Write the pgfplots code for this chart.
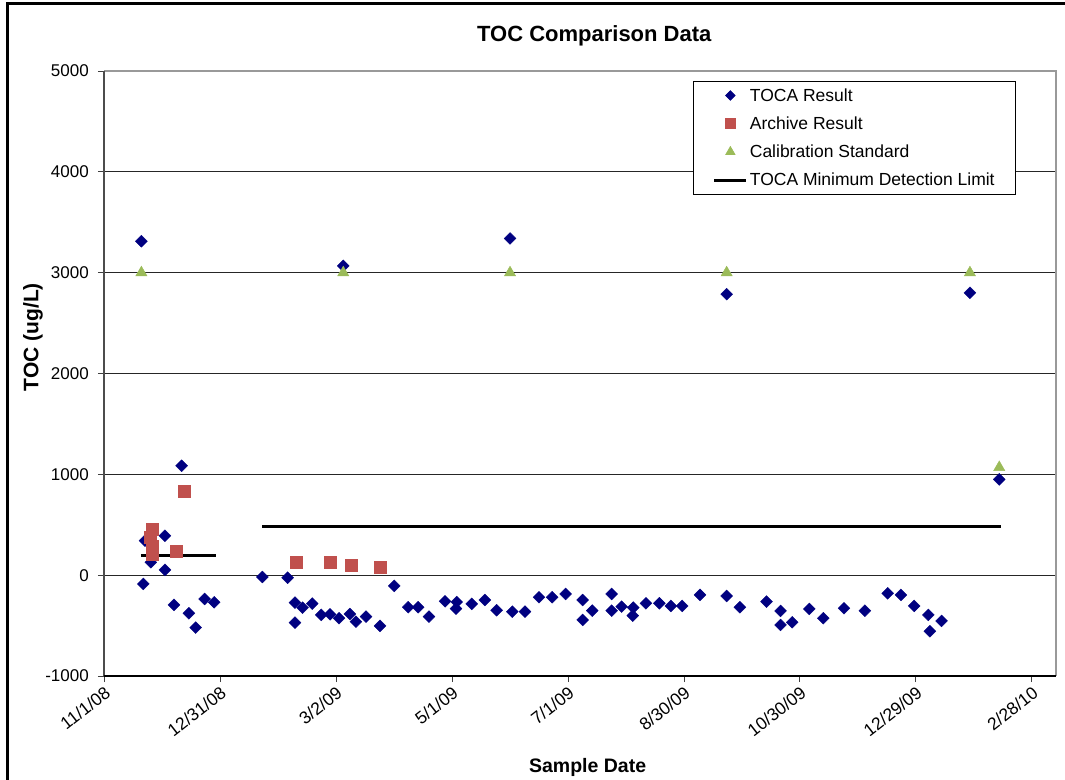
\documentclass[border=0pt]{standalone}
\usepackage{pgfplots}
\pgfplotsset{compat=1.18}
\usepackage{fontspec}
\setmainfont{Liberation Sans}
\definecolor{tocab}{HTML}{000080}
\definecolor{archr}{HTML}{C0504D}
\definecolor{calg}{HTML}{9BBB59}
\begin{document}
\begin{tikzpicture}
\begin{axis}[
  name=ax,
  scale only axis,
  width=952pt, height=605pt,
  xmin=0, xmax=496.6,
  ymin=-1000, ymax=5000,
  xtick={0,60.5,121,181.5,242,302.5,363,423.5,484},
  xticklabels={11/1/08,12/31/08,3/2/09,5/1/09,7/1/09,8/30/09,10/30/09,12/29/09,2/28/10},
  ytick={-1000,0,1000,2000,3000,4000,5000},
  yticklabels={-1000,0,1000,2000,3000,4000,5000},
  xtick pos=bottom, ytick pos=left,
  tick align=outside,
  major tick length=6pt,
  tick style={black!75, line width=0.8pt},
  axis line style={draw=none},
  ymajorgrids,
  grid style={black!85, line width=0.9pt},
  x tick label style={font=\fontsize{17.5}{20}\selectfont, rotate=38, anchor=north east, inner sep=2pt},
  y tick label style={font=\fontsize{17}{20}\selectfont, inner sep=3pt, xshift=-6pt},
  title={TOC Comparison Data},
  every axis title/.style={at={(rel axis cs:0.515,1)}, yshift=35pt, anchor=center, font=\bfseries\fontsize{22}{26}\selectfont},
  xlabel={Sample Date},
  every axis x label/.style={at={(rel axis cs:0.508,0)}, yshift=-91pt, anchor=center, font=\bfseries\fontsize{19.5}{23}\selectfont},
  ylabel={TOC (ug/L)},
  every axis y label/.style={at={(rel axis cs:0,0.56)}, xshift=-71pt, rotate=90, anchor=center, font=\bfseries\fontsize{21}{25}\selectfont},
  legend style={at={(rel axis cs:0.958,0.9835)}, anchor=north east, draw=black, line width=0.8pt, fill=white,
    font=\fontsize{17.5}{20}\selectfont, inner xsep=19pt, inner ysep=5pt, row sep=10pt},
  legend cell align=left,
  legend image code/.code={\draw[mark repeat=2,mark phase=2,#1,every mark/.append style={scale=0.8}] plot coordinates {(0pt,0pt)(16pt,0pt)(32pt,0pt)};},
  clip=false,
]
\addplot[only marks, mark=square*, mark size=4.2pt, mark options={rotate=45, fill=tocab, draw=tocab}] coordinates {
(19.5,3312) (20.5,-87) (21.4,342) (24.4,128) (31.8,391) (31.8,52) (36.5,-295) (40.5,1085)
(44.3,-378) (47.8,-520) (52.5,-236) (57.5,-269) (82.6,-18) (95.8,-25) (99.6,-272) (99.6,-471)
(103.6,-322) (108.6,-282) (113.3,-394) (117.9,-388) (122.6,-427) (124.8,3067) (128.3,-385)
(131.4,-461) (136.7,-411) (144.0,-503) (151.4,-107) (158.7,-318) (163.9,-318) (169.5,-411)
(177.9,-259) (184.0,-266) (183.6,-332) (191.8,-285) (198.7,-246) (204.8,-348) (211.8,3339)
(213.0,-362) (219.6,-362) (226.9,-219) (233.8,-219) (240.8,-186) (249.7,-246) (249.7,-444)
(254.7,-352) (264.8,-186) (264.8,-352) (270.0,-312) (276.1,-322) (275.8,-401) (282.7,-279)
(289.7,-279) (295.7,-305) (301.6,-305) (310.9,-196) (324.8,-206) (324.8,2787) (331.7,-318)
(345.6,-262) (352.9,-355) (352.9,-494) (359.0,-467) (367.9,-335) (375.2,-427) (386.0,-328)
(396.9,-352) (408.8,-180) (415.7,-196) (422.6,-305) (430.0,-394) (430.8,-556) (436.9,-454)
(451.7,2800) (467.0,950)
};
\addlegendentry{TOCA Result}
\addplot[only marks, mark=square*, mark size=6pt, mark options={fill=archr, draw=archr}] coordinates {
(25.0,458) (24.0,375) (25.0,292) (25.0,210) (37.9,233) (41.7,834) (100.1,128) (118.0,128) (128.8,94) (144.0,75)
};
\addlegendentry{Archive Result}
\addplot[only marks, mark=triangle*, mark size=6.5pt, mark options={fill=calg, draw=calg}] coordinates {
(19.5,3000) (124.8,3000) (211.8,3000) (324.8,3000) (451.7,3000) (467.0,1069)
};
\addlegendentry{Calibration Standard}
\addplot[black, line width=3pt, no marks] coordinates {(19.3,200) (58.4,200)};
\addlegendentry{TOCA Minimum Detection Limit}
\addplot[black, line width=3pt, no marks, forget plot] coordinates {(82.6,480) (467.7,480)};
\end{axis}
\draw[black!40, line width=1.2pt] (ax.south east) -- (ax.north east) -- (ax.north west);
\draw[black!70, line width=1.2pt] (ax.north west) -- (ax.south west);
\draw[black, line width=1.5pt] (ax.south west) -- (ax.south east);
\pgfresetboundingbox
\path[use as bounding box] ([xshift=-104pt,yshift=-103pt]ax.south west) rectangle ([xshift=9pt,yshift=71pt]ax.north east);
\draw[black, line width=3pt] ([xshift=-96pt,yshift=-130pt]ax.south west) -- ([xshift=-96pt,yshift=67pt]ax.north west) -- ([xshift=30pt,yshift=67pt]ax.north east);
\end{tikzpicture}
\end{document}
